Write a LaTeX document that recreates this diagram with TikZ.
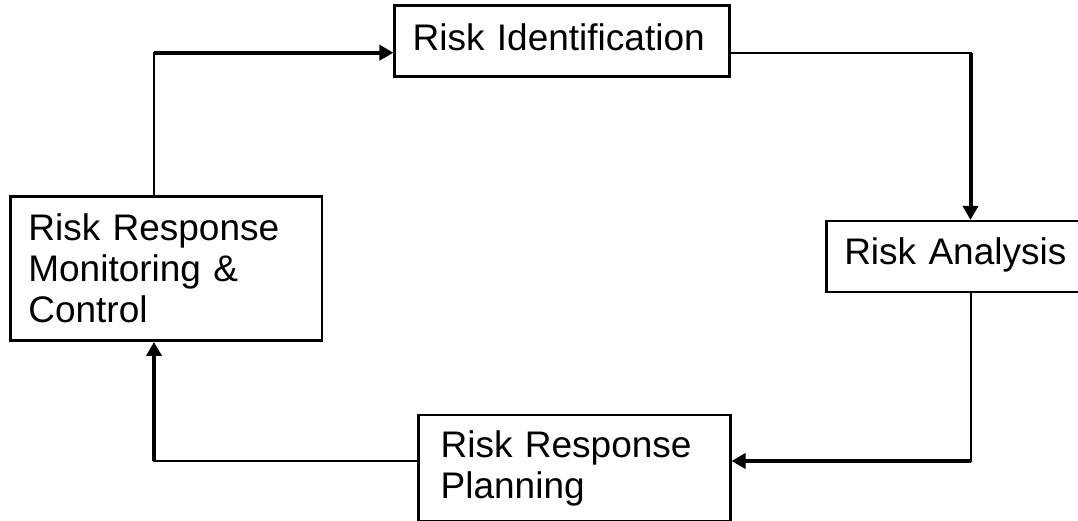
\documentclass[tikz,border=0pt]{standalone}
\usepackage{fontspec}
\setmainfont{Liberation Sans}
\usetikzlibrary{arrows.meta}
\begin{document}
\begin{tikzpicture}[x=1pt,y=-1pt,
  box/.style={draw, line width=2.5pt, rectangle, inner sep=0pt, inner xsep=18pt,
    font=\fontsize{37}{41}\selectfont, align=left},
  linkthin/.style={line width=2pt, line cap=rect},
  linkthick/.style={line width=4pt, -{Triangle[length=14pt,width=15pt]}}]
\useasboundingbox (0,0) rectangle (1078,520);

\node[box, minimum width=335pt, minimum height=71.4pt, text width=299pt,
      text height=27pt, text depth=9pt] (ident) at (562.2,41) {Risk Identification};
\node[box, minimum width=258.7pt, minimum height=71pt, text width=222.7pt,
      text height=27pt, text depth=12pt] (analysis) at (955.6,256.7) {Risk Analysis};
\node[box, minimum width=311.7pt, minimum height=144pt, text width=275.7pt]
      (monitor) at (166.2,268.7) {Risk Response\\Monitoring \&\\Control};
\node[box, inner xsep=22pt, minimum width=311.6pt, minimum height=106.5pt, text width=267.6pt]
      (planning) at (574.5,468) {Risk Response\\Planning};

\coordinate (tl) at (154,52.7);
\coordinate (tr) at (970.5,53);
\coordinate (br) at (970.5,461);
\coordinate (bl) at (154,461);

\draw[linkthin] (monitor.north -| tl) -- (tl);
\draw[linkthick] (tl) -- (ident.west |- tl);
\draw[linkthin] (ident.east |- tr) -- (tr);
\draw[linkthick] (tr) -- (analysis.north -| tr);
\draw[linkthin] (analysis.south -| br) -- (br);
\draw[linkthick] (br) -- (planning.east |- br);
\draw[linkthin] (planning.west |- bl) -- (bl);
\draw[linkthick] (bl) -- (monitor.south -| bl);
\end{tikzpicture}
\end{document}
